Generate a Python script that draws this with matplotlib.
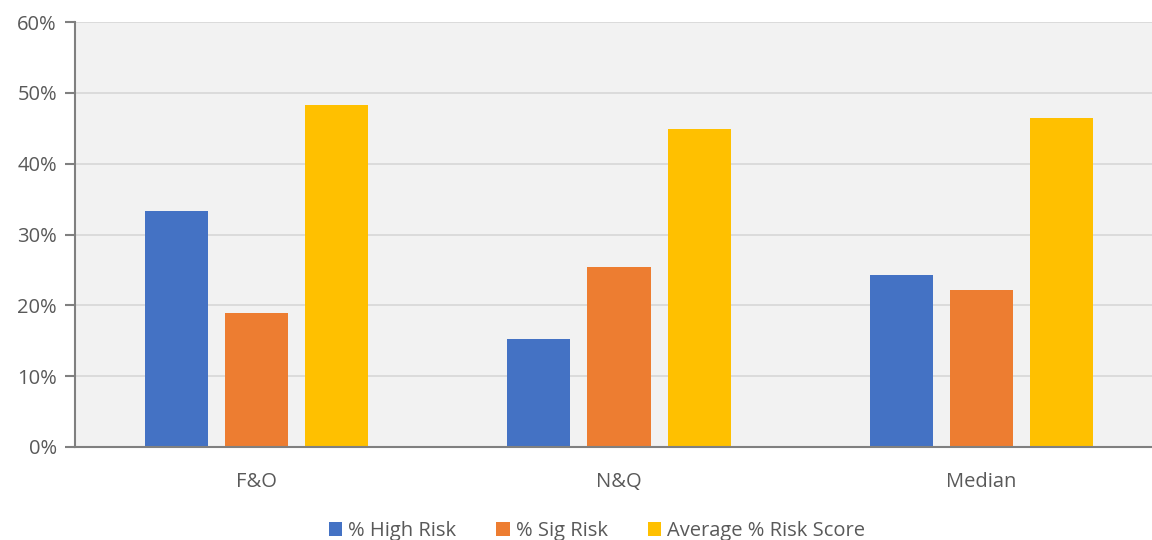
import numpy as np
import matplotlib.pyplot as plt
from matplotlib.ticker import PercentFormatter

# risk metrics per group
categories = ["F&O", "N&Q", "Median"]
high_risk = [33.3, 15.2, 24.3]
sig_risk = [18.9, 25.4, 22.2]
avg_risk_score = [48.3, 44.9, 46.4]

series = [
    ("% High Risk", high_risk, "#4472C4"),
    ("% Sig Risk", sig_risk, "#ED7D31"),
    ("Average % Risk Score", avg_risk_score, "#FFC000"),
]

plt.rcParams['font.family'] = ['Open Sans', 'DejaVu Sans']
text_color = "#595959"

fig = plt.figure(figsize=(11.52, 5.4), dpi=100)
ax = fig.add_axes([75 / 1152, 93 / 540, 1088 / 1152, 425 / 540])
ax.set_facecolor("#F2F2F2")

x = np.arange(len(categories))
width = 0.174
step = 0.221
for i, (label, vals, color) in enumerate(series):
    ax.bar(x + (i - 1) * step, vals, width, color=color, label=label, zorder=3)

ax.set_xlim(-0.5, 2.5)
ax.set_ylim(0, 60)
ax.set_yticks(np.arange(0, 61, 10))
ax.yaxis.set_major_formatter(PercentFormatter(decimals=0))
ax.set_xticks(x)
ax.set_xticklabels(categories)

ax.grid(axis="y", color="#D9D9D9", linewidth=1.3, zorder=0)
for side in ["top", "right"]:
    ax.spines[side].set_visible(False)
for side in ["left", "bottom"]:
    ax.spines[side].set_color("#808080")
    ax.spines[side].set_linewidth(1.5)
    ax.spines[side].set_zorder(4)

ax.tick_params(axis="y", length=7, width=1.5, color="#808080", labelsize=14.5,
               labelcolor=text_color, pad=6)
ax.tick_params(axis="x", length=0, labelsize=14.5, labelcolor=text_color, pad=18)

fig.legend(loc="center", bbox_to_anchor=(597 / 1152, 1 - 531 / 540), ncol=3,
           frameon=False, fontsize=14.5, handlelength=0.65, handleheight=0.65,
           handletextpad=0.3, columnspacing=2.0, labelcolor=text_color)

fig.savefig("out.png", dpi=100)
